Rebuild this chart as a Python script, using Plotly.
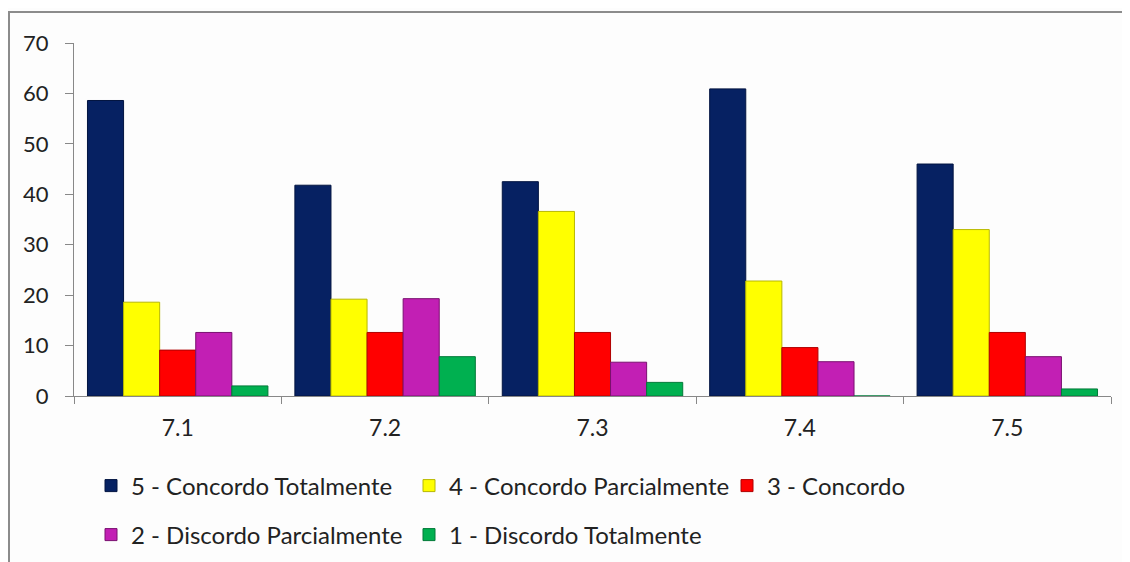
import plotly.graph_objects as go

categories = ["7.1", "7.2", "7.3", "7.4", "7.5"]
series_names = [
    "5 - Concordo Totalmente",
    "4 - Concordo Parcialmente",
    "3 - Concordo",
    "2 - Discordo Parcialmente",
    "1 - Discordo Totalmente",
]
concordo_totalmente = [58.6, 41.8, 42.5, 60.9, 46.0]
concordo_parcialmente = [18.6, 19.2, 36.6, 22.8, 33.0]
concordo = [9.1, 12.6, 12.6, 9.6, 12.6]
discordo_parcialmente = [12.6, 19.3, 6.7, 6.8, 7.8]
discordo_totalmente = [2.0, 7.8, 2.7, 0.0, 1.4]
y_ticks = [0, 10, 20, 30, 40, 50, 60, 70]

values = [concordo_totalmente, concordo_parcialmente, concordo,
          discordo_parcialmente, discordo_totalmente]
colors = ["#062162", "#FFFF00", "#FF0000", "#C21FB4", "#00B050"]
outlines = ["#021440", "#B8B800", "#B00000", "#7A1070", "#007A38"]
legends = ["legend", "legend", "legend", "legend2", "legend2"]

FONT = "Lato, Arial, sans-serif"
TXT = "#222222"

fig = go.Figure()
for name, vals, c, oc, lg in zip(series_names, values, colors, outlines, legends):
    fig.add_trace(go.Bar(
        x=categories, y=vals, name=name,
        marker=dict(color=c, line=dict(color=oc, width=1)),
        legend=lg,
    ))

W, H = 1130, 562
L, R, T, B = 66, 27, 35, 174
pw, ph = W - L - R, H - T - B

def px_x(p):
    return (p - L) / pw

def px_y(p):
    return (H - B - p) / ph

legend_common = dict(
    orientation="h",
    font=dict(family=FONT, size=24, color=TXT),
    bgcolor="rgba(0,0,0,0)",
    xanchor="left",
    yanchor="middle",
    itemwidth=30,
    entrywidth=273,
    entrywidthmode="pixels",
    traceorder="normal",
)

fig.update_layout(
    width=W, height=H,
    margin=dict(l=L, r=R, t=T, b=B),
    paper_bgcolor="#FDFDFD",
    plot_bgcolor="#FDFDFD",
    barmode="group",
    bargap=0.13,
    bargroupgap=0,
    font=dict(family=FONT, size=22, color=TXT),
    legend=dict(x=px_x(83), y=px_y(478), **legend_common),
    legend2=dict(x=px_x(83), y=px_y(527), **legend_common),
    xaxis=dict(
        showline=True, linecolor="#888888", linewidth=1,
        ticks="outside", tickson="boundaries", ticklen=7,
        tickcolor="#888888", showgrid=False,
        tickfont=dict(family=FONT, size=23, color=TXT),
        ticklabelstandoff=11,
    ),
    yaxis=dict(
        range=[0, 70], tickvals=y_ticks,
        showline=True, linecolor="#888888", linewidth=1,
        ticks="outside", ticklen=8, tickcolor="#888888",
        showgrid=False, zeroline=False,
        tickfont=dict(family=FONT, size=22, color=TXT),
        ticklabelstandoff=12,
    ),
    shapes=[dict(
        type="rect", xref="paper", yref="paper",
        x0=px_x(1), y0=px_y(H + 20), x1=px_x(W + 20), y1=px_y(4),
        line=dict(color="#8C8C8C", width=2), fillcolor="rgba(0,0,0,0)",
        layer="below",
    )],
)

fig.write_html("out.html")
